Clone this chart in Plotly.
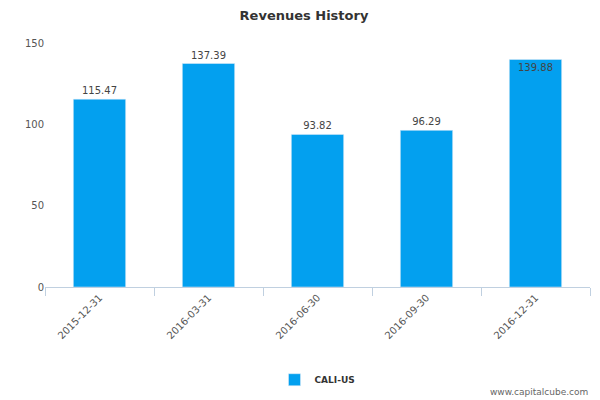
import plotly.graph_objects as go

categories = ["2015-12-31", "2016-03-31", "2016-06-30", "2016-09-30", "2016-12-31"]
values = [115.47, 137.39, 93.82, 96.29, 139.88]
labels = ["115.47", "137.39", "93.82", "96.29", "139.88"]
positions = ["outside", "outside", "outside", "outside", "inside"]

fig = go.Figure(go.Bar(
    x=categories, y=values, text=labels, textposition=positions,
    insidetextanchor="end",
    textfont=dict(size=10, color="#444444"), cliponaxis=False,
    marker_color="#03a0ef", width=0.48, name="<b>CALI-US</b>", showlegend=True,
))
fig.update_layout(
    width=592, height=392, margin=dict(l=37, r=10, t=35, b=113, autoexpand=False),
    plot_bgcolor="white", paper_bgcolor="white",
    font=dict(family="DejaVu Sans", size=10, color="#555555"),
    title=dict(text="<b>Revenues History</b>", x=0.5, y=0.98, yanchor="middle", xanchor="center",
               font=dict(size=13, color="#333333")),
    xaxis=dict(type="category", tickangle=-45, showline=True, linecolor="#c0d0e0",
               ticks="outside", ticklen=8, tickcolor="#c0d0e0", automargin=False,
               tickson="boundaries"),
    yaxis=dict(range=[0, 150], tickvals=[0, 50, 100, 150], showgrid=False,
               zeroline=False, ticksuffix="  ", automargin=False),
    legend=dict(orientation="h", x=0.5, xanchor="center", y=-0.38, yanchor="middle",
                font=dict(size=9, color="#333333")),
    bargap=0.52,
)
fig.add_annotation(text="www.capitalcube.com", xref="paper", yref="paper",
                   x=1.0, y=-0.43, yanchor="middle", xanchor="right", showarrow=False,
                   font=dict(size=9, color="#666666"))
fig.write_html("out.html")
